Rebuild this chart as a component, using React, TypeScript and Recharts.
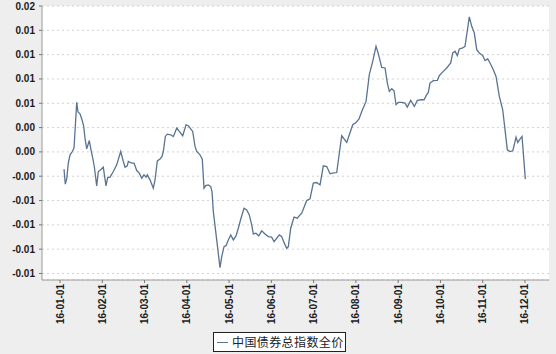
import { LineChart, Line, XAxis, YAxis, CartesianGrid, Legend } from 'recharts';

// position along the month axis (0 = 16-01-01, 11 = 16-12-01)
const monthPos = [
  0.095, 0.125, 0.159, 0.196, 0.237, 0.291, 0.331, 0.362, 0.395, 0.426,
  0.473, 0.52, 0.561, 0.591, 0.632, 0.693, 0.733, 0.774, 0.811, 0.868,
  0.906, 0.963, 1.024, 1.088, 1.128, 1.183, 1.261, 1.341, 1.436, 1.498,
  1.538, 1.592, 1.616, 1.696, 1.751, 1.815, 1.876, 1.933, 1.987, 2.035,
  2.065, 2.129, 2.207, 2.248, 2.302, 2.366, 2.413, 2.444, 2.492, 2.539,
  2.619, 2.68, 2.721, 2.761, 2.822, 2.903, 2.981, 3.035, 3.139, 3.194,
  3.234, 3.312, 3.366, 3.407, 3.447, 3.508, 3.565, 3.596, 3.627, 3.707,
  3.785, 3.826, 3.88, 3.927, 3.982, 4.038, 4.1, 4.164, 4.218, 4.282,
  4.353, 4.417, 4.478, 4.535, 4.573, 4.637, 4.701, 4.772, 4.85, 4.928,
  5.008, 5.063, 5.127, 5.188, 5.245, 5.3, 5.363, 5.401, 5.458, 5.536,
  5.614, 5.678, 5.718, 5.78, 5.836, 5.914, 5.992, 6.073, 6.111, 6.151,
  6.229, 6.31, 6.388, 6.442, 6.546, 6.664, 6.783, 6.844, 6.925, 7.003,
  7.074, 7.138, 7.24, 7.317, 7.398, 7.476, 7.53, 7.611, 7.689, 7.744,
  7.791, 7.848, 7.902, 7.949, 8.003, 8.084, 8.162, 8.216, 8.297, 8.382,
  8.453, 8.557, 8.612, 8.675, 8.713, 8.753, 8.831, 8.926, 8.973, 9.068,
  9.148, 9.243, 9.29, 9.345, 9.399, 9.447, 9.527, 9.581, 9.683, 9.74,
  9.801, 9.858, 9.92, 10.0, 10.055, 10.118, 10.173, 10.251, 10.315, 10.393,
  10.473, 10.528, 10.582, 10.646, 10.71, 10.741, 10.788, 10.828, 10.882, 10.93, 11.008,
];

const bondIndex = [
  -0.00177, -0.00332, -0.00277, -0.00115, -0.0003, 0.00004, 0.00039, 0.00262, 0.00509, 0.0041,
  0.00392, 0.00331, 0.00262, 0.00142, 0.00032, 0.00117, 0.00022, -0.00064, -0.0015, -0.00349,
  -0.00202, -0.00184, -0.00157, -0.00349, -0.00264, -0.00259, -0.00202, -0.00133, 0.00004, -0.00099,
  -0.00157, -0.00143, -0.00099, -0.00115, -0.00115, -0.00192, -0.00218, -0.0027, -0.00236, -0.00259,
  -0.00236, -0.00287, -0.00373, -0.00287, -0.00092, -0.00074, -0.00047, 0.00004, 0.00159, 0.00183,
  0.00176, 0.00159, 0.002, 0.00245, 0.0021, 0.00166, 0.00279, 0.00269, 0.0021, 0.00056,
  0.00004, -0.0003, -0.00074, -0.00373, -0.00346, -0.00339, -0.00356, -0.00408, -0.00614, -0.00905,
  -0.0119, -0.01077, -0.00974, -0.00964, -0.00905, -0.00854, -0.00905, -0.00864, -0.00785, -0.00682,
  -0.00579, -0.00596, -0.00648, -0.00751, -0.00843, -0.00836, -0.00864, -0.00812, -0.00843, -0.00871,
  -0.00877, -0.00923, -0.00888, -0.00854, -0.00871, -0.00933, -0.00991, -0.00974, -0.00785, -0.00671,
  -0.00682, -0.00648, -0.0063, -0.00562, -0.005, -0.00483, -0.00321, -0.00315, -0.00328, -0.00339,
  -0.00143, -0.0015, -0.00225, -0.00218, -0.00212, 0.00166, 0.00097, 0.00176, 0.00279, 0.00303,
  0.00338, 0.00416, 0.00519, 0.00794, 0.00931, 0.01085, 0.0101, 0.00869, 0.00863, 0.00708,
  0.00622, 0.0065, 0.00629, 0.00485, 0.00509, 0.00509, 0.00502, 0.00461, 0.00529, 0.00467,
  0.00529, 0.00536, 0.00536, 0.00588, 0.00612, 0.00708, 0.00732, 0.00735, 0.00784, 0.00828,
  0.00863, 0.00914, 0.01017, 0.01034, 0.0099, 0.01058, 0.01069, 0.01085, 0.01388, 0.01291,
  0.01223, 0.01051, 0.01017, 0.0099, 0.00938, 0.00956, 0.00914, 0.00845, 0.00776, 0.0057,
  0.00433, 0.00227, 0.00022, 0.00004, 0.00011, 0.00063, 0.00152, 0.00097, 0.00132, 0.00159, -0.0028,
];

const xTicks = [0, 1, 2, 3, 4, 5, 6, 7, 8, 9, 10, 11];
const xTickLabels = [
  '16-01-01', '16-02-01', '16-03-01', '16-04-01', '16-05-01', '16-06-01',
  '16-07-01', '16-08-01', '16-09-01', '16-10-01', '16-11-01', '16-12-01',
];

const yTicks = [0.015, 0.0125, 0.01, 0.0075, 0.005, 0.0025, 0, -0.0025, -0.005, -0.0075, -0.01, -0.0125];
const yTickLabels = ['0.02', '0.01', '0.01', '0.01', '0.01', '0.00', '0.00', '-0.00', '-0.01', '-0.01', '-0.01', '-0.01'];

const seriesName = '中国债券总指数全价';
const lineColor = '#5a7391';
const axisFont = '"Liberation Sans", Arial, sans-serif';

const data = monthPos.map((m, i) => ({ m, value: bondIndex[i] }));

function MonthTick({ x, y, payload }: any) {
  return (
    <text
      x={x}
      y={y}
      dy="0.35em"
      transform={`rotate(-90, ${x}, ${y})`}
      textAnchor="end"
      fontSize={10}
      fontWeight="bold"
      fontFamily={axisFont}
      fill="#1a1a1a"
    >
      {xTickLabels[payload.value]}
    </text>
  );
}

function ValueTick({ x, y, payload, index }: any) {
  return (
    <text
      x={x}
      y={y}
      dy="0.35em"
      textAnchor="end"
      fontSize={10}
      fontWeight="bold"
      fontFamily={axisFont}
      fill="#1a1a1a"
    >
      {yTickLabels[index] ?? payload.value}
    </text>
  );
}

function LegendBox() {
  return (
    <div
      style={{
        width: 131,
        height: 18,
        border: '1px solid #222',
        background: '#fff',
        display: 'flex',
        alignItems: 'center',
        boxSizing: 'content-box',
      }}
    >
      <span style={{ display: 'inline-block', width: 11, height: 1, background: lineColor, marginLeft: 3, marginRight: 4 }} />
      <span
        style={{
          fontFamily: '"Noto Sans CJK SC", sans-serif',
          fontSize: 12,
          letterSpacing: 0.4,
          color: '#222',
          lineHeight: '18px',
          whiteSpace: 'nowrap',
        }}
      >
        {seriesName}
      </span>
    </div>
  );
}

export default function App() {
  return (
    <div style={{ position: 'fixed', left: 0, top: 0, width: 556, height: 354, background: '#eeeeee' }}>
      <LineChart width={556} height={354} data={data} margin={{ top: 6, right: 7, left: 0, bottom: 2 }}>
        <CartesianGrid
          horizontal
          vertical={false}
          fill="#ffffff"
          stroke="#d2d2d2"
          strokeDasharray="2 3"
        />
        <XAxis
          dataKey="m"
          type="number"
          domain={[-0.426, 11.568]}
          ticks={xTicks}
          interval={0}
          allowDataOverflow
          height={52}
          tickSize={3}
          tickMargin={1}
          axisLine={{ stroke: '#9a9a9a' }}
          tickLine={{ stroke: '#777' }}
          tick={<MonthTick />}
        />
        <XAxis
          xAxisId="top"
          orientation="top"
          dataKey="m"
          type="number"
          domain={[-0.426, 11.568]}
          height={0}
          tick={false}
          tickLine={false}
          axisLine={{ stroke: '#c4c4c4' }}
        />
        <YAxis
          type="number"
          domain={[-0.01317, 0.015]}
          ticks={yTicks}
          interval={0}
          allowDataOverflow
          width={42}
          tickSize={3}
          tickMargin={4}
          axisLine={{ stroke: '#9a9a9a' }}
          tickLine={{ stroke: '#777' }}
          tick={<ValueTick />}
        />
        <YAxis
          yAxisId="right"
          orientation="right"
          type="number"
          domain={[-0.01317, 0.015]}
          width={0}
          tick={false}
          tickLine={false}
          axisLine={{ stroke: '#c4c4c4' }}
        />
        <Legend
          verticalAlign="bottom"
          content={<LegendBox />}
          wrapperStyle={{ left: 213, bottom: 2, width: 133, height: 20 }}
        />
        <Line
          type="linear"
          dataKey="value"
          name={seriesName}
          stroke={lineColor}
          strokeWidth={1.3}
          dot={false}
          isAnimationActive={false}
        />
      </LineChart>
    </div>
  );
}
